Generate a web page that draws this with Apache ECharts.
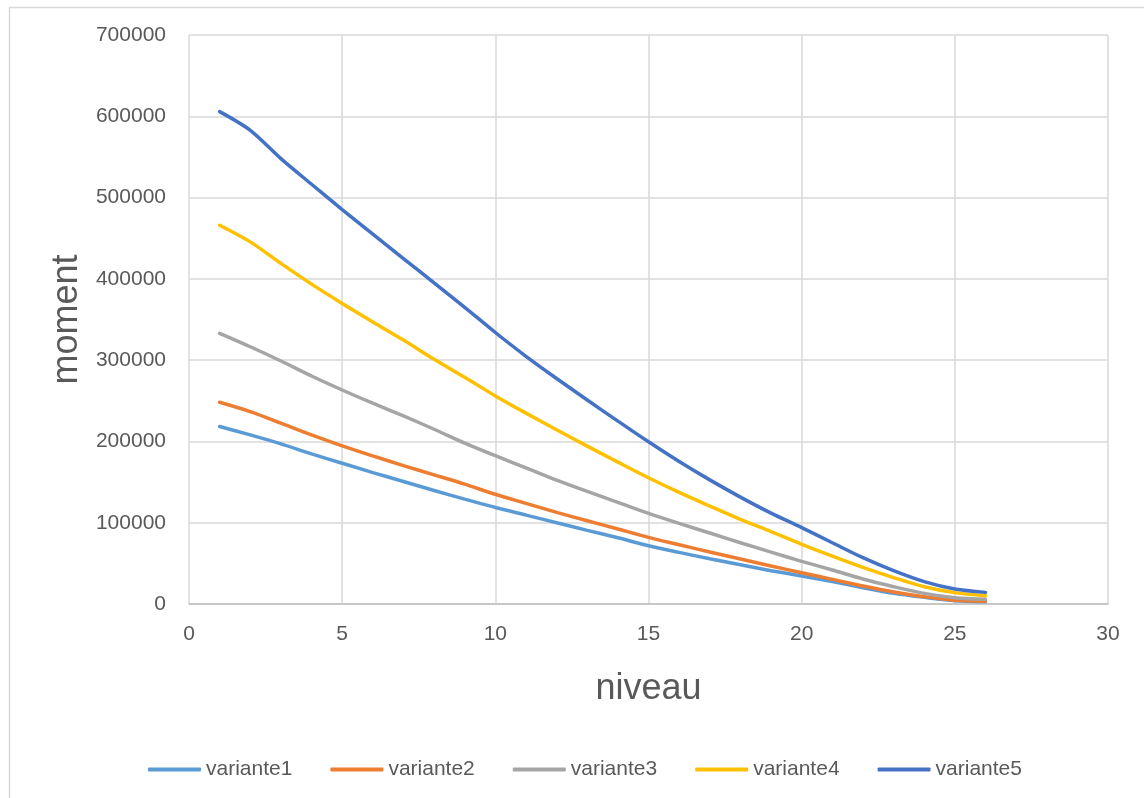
<!DOCTYPE html>
<html>
<head>
<meta charset="utf-8">
<script src="https://cdn.jsdelivr.net/npm/echarts@6/dist/echarts.min.js"></script>
<style>
html,body{margin:0;padding:0;background:#fff;}
#chart{width:1144px;height:798px;}
</style>
</head>
<body>
<div id="chart"></div>
<script>
const niveaux = [1,2,3,4,5,6,7,8,9,10,11,12,13,14,15,16,17,18,19,20,21,22,23,24,25,26];
const seriesNames = ['variante1','variante2','variante3','variante4','variante5'];
const variante1 = [218300,208000,197000,184700,173200,161700,150700,139600,129000,118800,109400,100000,90600,81500,71700,63500,55700,48300,41000,34500,27500,20100,13100,8200,4100,2900];
const variante2 = [248200,236700,222400,208000,194500,182200,170300,158900,147400,135000,123800,112700,102400,92200,82000,72900,63900,55300,46700,38500,30300,22100,14800,9000,4500,3300];
const variante3 = [333000,316500,299000,280500,263300,247000,231400,215000,198000,182500,167500,152400,138500,125000,111400,99100,87300,75400,63900,52500,41800,30700,21300,13100,7800,5700];
const variante4 = [466000,445500,419000,393500,369800,347000,324700,301000,278900,256000,234800,214300,194200,174600,155300,137300,120500,104100,89000,73500,59000,45000,32400,21300,14000,10200];
const variante5 = [605700,582700,547900,516400,485200,455000,425000,395000,365000,334000,304700,277400,251000,225000,199500,175300,152700,131500,111800,94000,75400,57000,41000,27500,18400,14300];
const allValues = [variante1, variante2, variante3, variante4, variante5];
const colors = ['#5B9BD5','#ED7D31','#A5A5A5','#FFC000','#4472C4'];

const chart = echarts.init(document.getElementById('chart'), null, {renderer:'canvas'});
const font = '"Liberation Sans", Arial, sans-serif';
const option = {
  animation: false,
  backgroundColor: '#fff',
  graphic: [{
    type: 'rect', left: 7, top: 5, silent: true,
    shape: {width: 1200, height: 900},
    style: {fill: 'none', stroke: '#d9d9d9', lineWidth: 1.5}
  }],
  grid: {left: 189, right: 36, top: 35, bottom: 194, containLabel: false},
  xAxis: {
    type: 'value', min: 0, max: 30, interval: 5,
    name: 'niveau', nameLocation: 'middle', nameGap: 67,
    nameTextStyle: {fontFamily: font, fontSize: 36, color: '#595959'},
    axisLine: {show: true, lineStyle: {color: '#bfbfbf', width: 1.5}},
    axisTick: {show: false},
    axisLabel: {fontFamily: font, fontSize: 21, color: '#595959', margin: 20},
    splitLine: {show: true, lineStyle: {color: '#d9d9d9', width: 1.5}}
  },
  yAxis: {
    type: 'value', min: 0, max: 700000, interval: 100000,
    name: 'moment', nameLocation: 'middle', nameGap: 98,
    nameTextStyle: {fontFamily: font, fontSize: 36, color: '#595959'},
    axisLine: {show: false},
    axisTick: {show: false},
    axisLabel: {fontFamily: font, fontSize: 21, color: '#595959', margin: 23,
      formatter: v => String(v)},
    splitLine: {show: true, lineStyle: {color: '#d9d9d9', width: 1.5}}
  },
  legend: {
    left: 143, top: 754, itemGap: 38, itemWidth: 53, itemHeight: 4,
    icon: 'roundRect',
    textStyle: {fontFamily: font, fontSize: 21, color: '#595959'},
    data: seriesNames
  },
  series: seriesNames.map((n, i) => ({
    name: n, type: 'line', smooth: 0.3, showSymbol: false, symbol: 'none',
    color: colors[i],
    lineStyle: {width: 3.5, color: colors[i], cap: 'round'},
    data: niveaux.map((x, j) => [x, allValues[i][j]])
  }))
};
chart.setOption(option);
</script>
</body>
</html>
